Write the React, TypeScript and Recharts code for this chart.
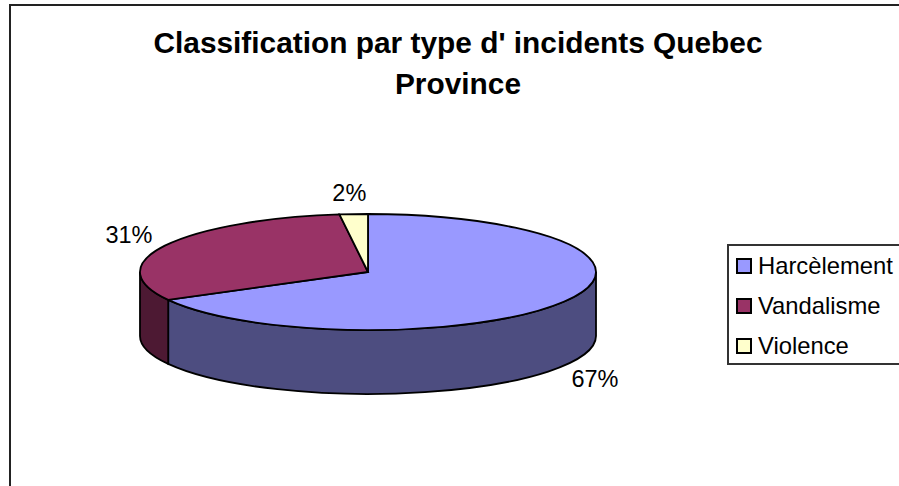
import React from "react";
import { PieChart, Pie, Legend } from "recharts";

const categories = ["Harcèlement", "Vandalisme", "Violence"];
const values = [67, 31, 2];
const topColors = ["#9999FF", "#993366", "#FFFFCC"];
const sideColors = ["#4D4D80", "#4D1933", "#808066"];
const titleLines = ["Classification par type d' incidents Quebec", "Province"];

const data = categories.map((name, i) => ({
  name,
  value: values[i],
  fill: topColors[i],
  side: sideColors[i],
}));

const FONT = "'Liberation Sans', Arial, sans-serif";
const SQUASH = 58 / 228; // tilt of the disc
const DEPTH = 64;

// t is degrees clockwise from 12 o'clock
function point(cx: number, cy: number, rx: number, ry: number, t: number) {
  const r = (t * Math.PI) / 180;
  return [cx + rx * Math.sin(r), cy - ry * Math.cos(r)];
}

function Slice(props: any) {
  const { cx, cy, outerRadius, startAngle, endAngle, fill, side } = props;
  const rx = outerRadius;
  const ry = outerRadius * SQUASH;
  const t0 = 90 - startAngle;
  const t1 = 90 - endAngle;
  const [x0, y0] = point(cx, cy, rx, ry, t0);
  const [x1, y1] = point(cx, cy, rx, ry, t1);
  const large = t1 - t0 > 180 ? 1 : 0;

  // only the part facing the viewer gets a wall
  const w0 = Math.max(t0, 90);
  const w1 = Math.min(t1, 270);
  let wall = null;
  if (w1 > w0) {
    const [ax, ay] = point(cx, cy, rx, ry, w0);
    const [bx, by] = point(cx, cy, rx, ry, w1);
    wall = (
      <path
        d={`M${ax},${ay} A${rx},${ry} 0 0 1 ${bx},${by} L${bx},${by + DEPTH} A${rx},${ry} 0 0 0 ${ax},${ay + DEPTH} Z`}
        fill={side}
        stroke="#000"
        strokeWidth={1.8}
      />
    );
  }
  return (
    <g>
      {wall}
      <path
        d={`M${cx},${cy} L${x0},${y0} A${rx},${ry} 0 ${large} 1 ${x1},${y1} Z`}
        fill={fill}
        stroke="#000"
        strokeWidth={1.8}
      />
    </g>
  );
}

function PercentLabel(props: any) {
  const { cx, cy, outerRadius, midAngle, percent } = props;
  const t = 90 - midAngle;
  const r = (t * Math.PI) / 180;
  const [x, y] = point(cx, cy, outerRadius, outerRadius * SQUASH, t);
  const wall = Math.cos(r) < 0 ? DEPTH : 0;
  return (
    <text
      x={x + 38 * Math.sin(r) - 2}
      y={y + wall - 21.6 * Math.cos(r) + 2.2 * Math.sin(r) + 8.7}
      textAnchor="middle"
      fontFamily={FONT}
      fontSize={23.5}
      fill="#000"
    >
      {`${Math.round(percent * 100)}%`}
    </text>
  );
}

function LegendBox({ payload }: any) {
  return (
    <div
      style={{
        width: 200,
        height: 117,
        border: "2px solid #333",
        background: "#fff",
        fontFamily: FONT,
        fontSize: 23.8,
        color: "#000",
        boxSizing: "content-box",
      }}
    >
      {(payload || []).map((p: any, i: number) => (
        <div
          key={p.value}
          style={{
            position: "absolute",
            left: 9,
            top: 12 + i * 40,
            height: 20,
            display: "flex",
            alignItems: "center",
            whiteSpace: "nowrap",
          }}
        >
          <span
            style={{
              width: 12,
              height: 12,
              border: "2px solid #000",
              background: topColors[categories.indexOf(p.value)],
              marginRight: 6,
            }}
          />
          {p.value}
        </div>
      ))}
    </div>
  );
}

export default function App() {
  return (
    <div style={{ position: "absolute", left: 0, top: 0, width: 899, height: 486, overflow: "hidden", background: "#fff" }}>
      <div style={{ position: "absolute", left: 9, top: 4, width: 1000, height: 1000, border: "2px solid #222" }} />
      <div
        style={{
          position: "absolute",
          left: 58,
          top: 22,
          width: 800,
          textAlign: "center",
          fontFamily: FONT,
          fontWeight: "bold",
          fontSize: 29.85,
          lineHeight: "41px",
          color: "#000",
        }}
      >
        {titleLines.map((line) => (
          <div key={line}>{line}</div>
        ))}
      </div>
      <div style={{ position: "absolute", left: 0, top: 0 }}>
        <PieChart width={899} height={486} margin={{ top: 0, right: 0, bottom: 0, left: 0 }}>
          <Pie
            data={data}
            dataKey="value"
            nameKey="name"
            cx={368}
            cy={272}
            outerRadius={228}
            startAngle={90}
            endAngle={-270}
            paddingAngle={0}
            shape={Slice}
            label={PercentLabel}
            labelLine={false}
            isAnimationActive={false}
          />
          <Legend
            layout="vertical"
            content={<LegendBox />}
            wrapperStyle={{ position: "absolute", left: 727, top: 244, width: 204 }}
          />
        </PieChart>
      </div>
    </div>
  );
}
